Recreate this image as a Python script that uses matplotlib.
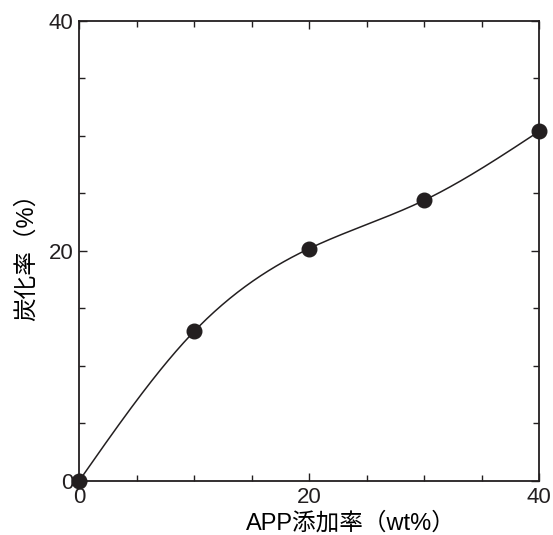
import numpy as np
import matplotlib
matplotlib.use("Agg")
import matplotlib.pyplot as plt
from matplotlib.ticker import MultipleLocator

plt.rcParams['font.family'] = ['Liberation Sans', 'Noto Sans CJK JP', 'DejaVu Sans']

# APP addition rate (wt%) vs char yield (%)
app_rate = [0, 10, 20, 30, 40]
char_yield = [0.0, 13.0, 20.2, 24.4, 30.4]


def natural_spline(x, y, n=300):
    # natural cubic spline through the points, only for drawing the smooth line
    x = np.asarray(x, float); y = np.asarray(y, float)
    k = len(x)
    h = np.diff(x)
    A = np.zeros((k, k)); b = np.zeros(k)
    A[0, 0] = A[-1, -1] = 1
    for i in range(1, k-1):
        A[i, i-1] = h[i-1]
        A[i, i] = 2*(h[i-1]+h[i])
        A[i, i+1] = h[i]
        b[i] = 6*((y[i+1]-y[i])/h[i] - (y[i]-y[i-1])/h[i-1])
    M = np.linalg.solve(A, b)
    xs = np.linspace(x[0], x[-1], n)
    idx = np.clip(np.searchsorted(x, xs) - 1, 0, k-2)
    x0, x1 = x[idx], x[idx+1]; hh = x1 - x0
    ys = (M[idx]*(x1-xs)**3 + M[idx+1]*(xs-x0)**3)/(6*hh) \
        + (y[idx]/hh - M[idx]*hh/6)*(x1-xs) + (y[idx+1]/hh - M[idx+1]*hh/6)*(xs-x0)
    return xs, ys


fig = plt.figure(figsize=(5.53, 5.35), dpi=100)
ax = fig.add_axes([0.143, 0.101, 0.832, 0.860])

xs, ys = natural_spline(app_rate, char_yield)
ax.plot(xs, ys, color='#231f20', lw=1.1, clip_on=False)
ax.plot(app_rate, char_yield, 'o', color='#231f20', ms=10.5, clip_on=False, zorder=5)

ax.set_xlim(0, 40)
ax.set_ylim(0, 40)
ax.xaxis.set_major_locator(MultipleLocator(20))
ax.yaxis.set_major_locator(MultipleLocator(20))
ax.xaxis.set_minor_locator(MultipleLocator(5))
ax.yaxis.set_minor_locator(MultipleLocator(5))
ax.tick_params(which='both', direction='in', top=True, right=True, width=1.0, colors='#231f20')
ax.tick_params(which='major', length=6, labelsize=16, pad=4)
ax.tick_params(which='minor', length=4)
for s in ax.spines.values():
    s.set_linewidth(1.3)
    s.set_color('#231f20')

ax.set_xlabel('APP添加率（wt%）', fontsize=17, labelpad=3)
ax.xaxis.label.set_x(0.59)
ax.set_ylabel('炭化率（%）', fontsize=17, labelpad=8)

plt.savefig('out.png', dpi=100)
